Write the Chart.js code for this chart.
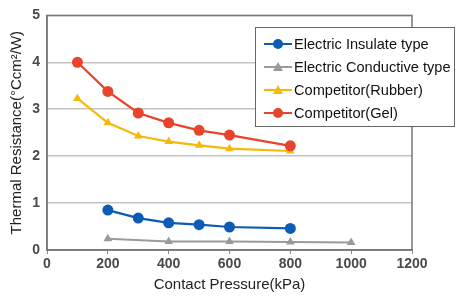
<!DOCTYPE html>
<html>
<head>
<meta charset="utf-8">
<script src="https://cdn.jsdelivr.net/npm/chart.js@4/dist/chart.umd.min.js"></script>
<style>
  body { margin: 0; background: #fff; }
  #wrap { position: relative; width: 457px; height: 298px; }
  #legend {
    position: absolute; left: 255px; top: 27px; width: 200px; height: 100px;
    border: 1px solid #666; background: #fff; box-sizing: border-box;
    font-family: "Liberation Sans", Arial, sans-serif; font-size: 14.6px; color: #111;
    padding-top: 4px; white-space: nowrap;
  }
  .item { display: flex; align-items: center; height: 23px; }
  .item canvas { margin-left: 8px; margin-right: 2px; }
</style>
</head>
<body>
<div id="wrap">
  <canvas id="myChart" width="457" height="298"></canvas>
  <div id="legend"></div>
</div>
<script>
const seriesNames = ["Electric Insulate type", "Electric Conductive type", "Competitor(Rubber)", "Competitor(Gel)"];
const seriesColors = ["#0b5cb5", "#9a9a9a", "#f5b90a", "#e8432b"];
const seriesMarkers = ["circle", "triangle", "triangle", "circle"];

const insulateX = [200, 300, 400, 500, 600, 800];
const insulateY = [0.85, 0.68, 0.58, 0.54, 0.49, 0.46];
const conductiveX = [200, 400, 600, 800, 1000];
const conductiveY = [0.24, 0.18, 0.18, 0.17, 0.16];
const rubberX = [100, 200, 300, 400, 500, 600, 800];
const rubberY = [3.23, 2.71, 2.43, 2.31, 2.23, 2.16, 2.11];
const gelX = [100, 200, 300, 400, 500, 600, 800];
const gelY = [4.0, 3.38, 2.92, 2.71, 2.55, 2.45, 2.22];

const xTicks = [0, 200, 400, 600, 800, 1000, 1200];
const yTicks = [0, 1, 2, 3, 4, 5];

function toPoints(xs, ys) {
  return xs.map((x, i) => ({ x: x, y: ys[i] }));
}

const allData = [
  toPoints(insulateX, insulateY),
  toPoints(conductiveX, conductiveY),
  toPoints(rubberX, rubberY),
  toPoints(gelX, gelY),
];

const datasets = allData.map((pts, i) => ({
  label: seriesNames[i],
  data: pts,
  borderColor: seriesColors[i],
  backgroundColor: seriesColors[i],
  pointStyle: seriesMarkers[i],
  pointRadius: seriesMarkers[i] === "circle" ? 5.5 : 5,
  pointBorderWidth: 0,
  borderWidth: i === 1 ? 2 : 2.2,
  tension: 0,
}));
// draw gel on top of rubber, like the picture
datasets.reverse();

// frame round the plot area
const framePlugin = {
  id: "frame",
  afterDraw(chart) {
    const a = chart.chartArea;
    const ctx = chart.ctx;
    ctx.save();
    ctx.strokeStyle = "#777";
    ctx.lineWidth = 1.5;
    ctx.strokeRect(a.left, a.top, a.right - a.left, a.bottom - a.top);
    ctx.restore();
  },
};

const config = {
  type: "line",
  data: { datasets: datasets },
  options: {
    responsive: false,
    animation: false,
    layout: { padding: { top: 14, right: 45, left: 0, bottom: 0 } },
    plugins: { legend: { display: false }, tooltip: { enabled: false } },
    scales: {
      x: {
        type: "linear",
        min: 0,
        max: 1200,
        afterBuildTicks: (s) => { s.ticks = xTicks.map((v) => ({ value: v })); },
        afterFit: (s) => { s.height = 48; },
        grid: { drawOnChartArea: false, drawTicks: true, tickLength: 4, color: "#888" },
        border: { color: "#777", width: 1.5 },
        ticks: {
          color: "#4a4a4a",
          font: { family: "Liberation Sans", size: 14, weight: "bold" },
          padding: 2,
          maxRotation: 0,
          callback: (v) => String(v),
        },
        title: {
          display: true,
          text: "Contact Pressure(kPa)",
          color: "#222",
          font: { family: "Liberation Sans", size: 15 },
          padding: { top: 1 },
        },
      },
      y: {
        min: 0,
        max: 5,
        afterBuildTicks: (s) => { s.ticks = yTicks.map((v) => ({ value: v })); },
        afterFit: (s) => { s.width = 47; },
        grid: { color: "#c4c4c4", lineWidth: 1.5, drawTicks: false },
        border: { color: "#777", width: 1.5 },
        ticks: {
          color: "#4a4a4a",
          font: { family: "Liberation Sans", size: 14, weight: "bold" },
          padding: 7,
          callback: (v) => String(v),
        },
        title: {
          display: true,
          text: "Thermal Resistance(\u00B0Ccm\u00B2/W)",
          color: "#222",
          font: { family: "Liberation Sans", size: 15 },
          padding: { top: 8, bottom: 0 },
        },
      },
    },
  },
  plugins: [framePlugin],
};

const myChart = new Chart(document.getElementById("myChart"), config);

// legend box built from the datasets, in the original order
const legendBox = document.getElementById("legend");
seriesNames.forEach((name, i) => {
  const row = document.createElement("div");
  row.className = "item";
  const c = document.createElement("canvas");
  c.width = 28; c.height = 14;
  const g = c.getContext("2d");
  g.strokeStyle = seriesColors[i];
  g.fillStyle = seriesColors[i];
  g.lineWidth = 2;
  g.beginPath(); g.moveTo(0, 7); g.lineTo(28, 7); g.stroke();
  if (seriesMarkers[i] === "circle") {
    g.beginPath(); g.arc(14, 7, 5, 0, Math.PI * 2); g.fill();
  } else {
    g.beginPath(); g.moveTo(14, 2); g.lineTo(19, 11); g.lineTo(9, 11); g.closePath(); g.fill();
  }
  row.appendChild(c);
  const t = document.createElement("span");
  t.textContent = name;
  row.appendChild(t);
  legendBox.appendChild(row);
});
</script>
</body>
</html>
